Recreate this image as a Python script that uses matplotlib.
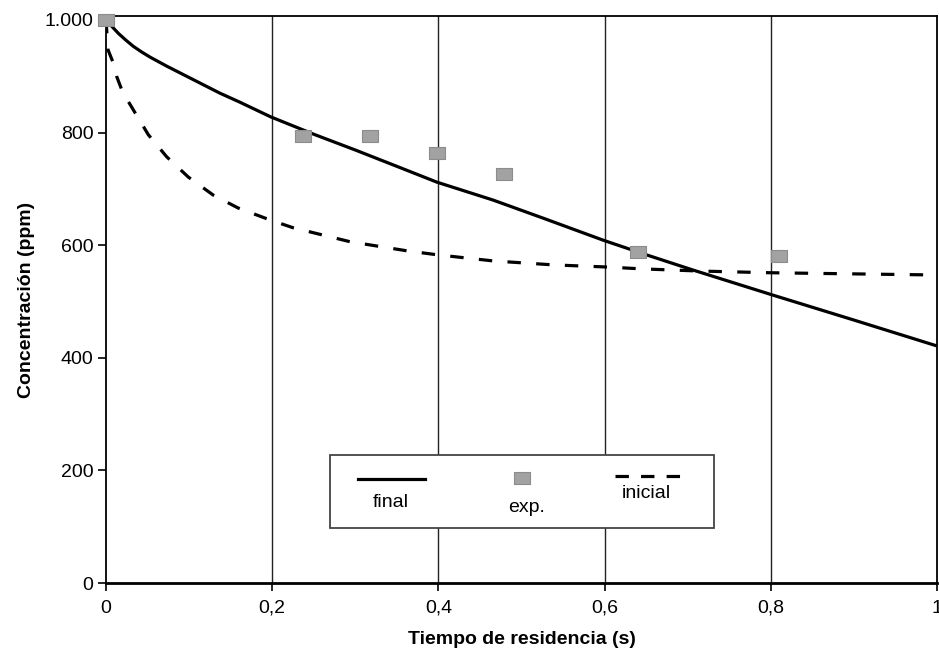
import matplotlib
matplotlib.use("Agg")
import matplotlib.pyplot as plt
from matplotlib.lines import Line2D
from matplotlib.patches import Rectangle

plt.rcParams['font.family'] = ['Liberation Sans', 'DejaVu Sans']

# Concentration profiles vs residence time
final_t = [0, 0.008, 0.015, 0.024, 0.033, 0.043, 0.053, 0.063, 0.073, 0.093,
           0.113, 0.137, 0.161, 0.198, 0.250, 0.300, 0.350, 0.398, 0.466,
           0.526, 0.598, 0.650, 0.706, 0.801, 0.900, 1.000]
final_c = [1000, 987, 976, 964, 953, 943, 934, 926, 918, 903,
           888, 870, 854, 828, 797, 769, 740, 712, 680,
           648, 609, 583, 556, 512, 467, 421]

inicial_t = [0, 0.0024, 0.0084, 0.013, 0.020, 0.033, 0.051, 0.073, 0.099,
             0.129, 0.159, 0.197, 0.225, 0.294, 0.362, 0.398, 0.466, 0.538,
             0.606, 0.643, 0.715, 0.800, 0.900, 1.000]
inicial_c = [1000, 947, 925, 899, 872, 840, 796, 757, 721,
             689, 666, 645, 631, 606, 590, 583, 572, 565,
             561, 558, 554, 551, 549, 547]

exp_t = [0, 0.237, 0.318, 0.398, 0.479, 0.640, 0.810]
exp_c = [1000, 793, 793, 764, 726, 587, 580]

x_ticks = [0, 0.2, 0.4, 0.6, 0.8, 1.0]
x_labels = ['0', '0,2', '0,4', '0,6', '0,8', '1']
y_ticks = [0, 200, 400, 600, 800, 1000]
y_labels = ['0', '200', '400', '600', '800', '1.000']

fig = plt.figure(figsize=(9.39, 6.49), dpi=100)
ax = fig.add_axes([106 / 939, 66 / 649, 831 / 939, 567 / 649])

# vertical guide lines
for xv in x_ticks[1:-1]:
    ax.axvline(xv, color='#222222', lw=1.0, zorder=1)

ax.plot(final_t, final_c, color='black', lw=2.3, zorder=3,
        solid_capstyle='butt', solid_joinstyle='round')
ax.plot(inicial_t, inicial_c, color='black', lw=2.3, zorder=3,
        linestyle=(0, (4.2, 4.8)))

rect_marker = [(-1.3, -1.0), (1.3, -1.0), (1.3, 1.0), (-1.3, 1.0), (-1.3, -1.0)]
ax.plot(exp_t, exp_c, linestyle='none', marker=rect_marker, markersize=11,
        markerfacecolor='#a2a2a2', markeredgecolor='#8c8c8c', markeredgewidth=0.8,
        zorder=4, clip_on=False)

ax.set_xlim(0, 1)
ax.set_ylim(0, 1007)
ax.set_xticks(x_ticks)
ax.set_xticklabels(x_labels)
ax.set_yticks(y_ticks)
ax.set_yticklabels(y_labels)
ax.tick_params(axis='both', direction='out', length=6, width=1.2,
               labelsize=14, color='black')
ax.tick_params(axis='x', pad=6)
ax.tick_params(axis='y', pad=3)

for side in ['left', 'right', 'top']:
    ax.spines[side].set_linewidth(1.3)
ax.spines['bottom'].set_linewidth(2.0)

ax.set_xlabel('Tiempo de residencia (s)', fontsize=14, fontweight='bold',
              labelpad=10)
ax.set_ylabel('Concentración (ppm)', fontsize=14, fontweight='bold',
              labelpad=7)

# legend box with symbols above their labels
tr = ax.transAxes
ax.add_patch(Rectangle((0.2696, 0.0972), 0.462, 0.1289, transform=tr,
                       facecolor='white', edgecolor='#444444', lw=1.3,
                       zorder=5))
ax.add_line(Line2D([0.303, 0.384], [0.183, 0.183], transform=tr,
                   color='black', lw=2.3, zorder=6))
ax.text(0.343, 0.142, 'final', transform=tr, ha='center', va='center',
        fontsize=14, zorder=6)
ax.add_line(Line2D([0.500], [0.185], transform=tr, linestyle='none',
                   marker=rect_marker, markersize=11, markerfacecolor='#a2a2a2',
                   markeredgecolor='#8c8c8c', markeredgewidth=0.8, zorder=6))
ax.text(0.506, 0.134, 'exp.', transform=tr, ha='center', va='center',
        fontsize=14, zorder=6)
ax.add_line(Line2D([0.612, 0.700], [0.189, 0.189], transform=tr,
                   color='black', lw=2.3, linestyle=(0, (4.2, 3.8)), zorder=6))
ax.text(0.650, 0.157, 'inicial', transform=tr, ha='center', va='center',
        fontsize=14, zorder=6)

fig.savefig('out.png', dpi=100)
